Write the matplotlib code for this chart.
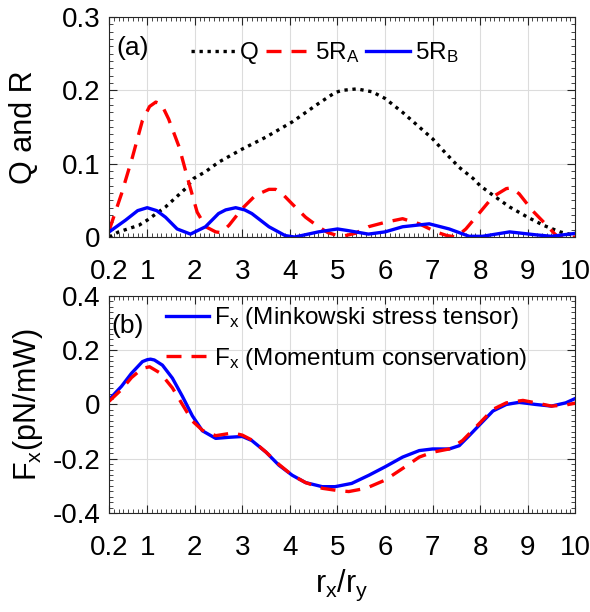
import matplotlib
matplotlib.use('Agg')
import matplotlib.pyplot as plt
from matplotlib.ticker import MultipleLocator

plt.rcParams['font.family'] = ['Liberation Sans', 'DejaVu Sans']
plt.rcParams['mathtext.fontset'] = 'custom'
plt.rcParams['mathtext.rm'] = 'Liberation Sans'
plt.rcParams['mathtext.it'] = 'Liberation Sans'

# ---- panel (a) data ----
q_x = [0.2, 0.4, 0.825, 1.0, 1.385, 1.805, 1.98, 2.225, 2.5, 3.0, 3.49, 4.05, 4.6,
       4.95, 5.1, 5.41, 5.73, 6.0, 6.37, 6.72, 7.0, 7.28, 7.56, 7.85, 8.0, 8.27,
       8.62, 9.0, 9.33, 9.68, 10.0]
q_y = [0.0, 0.007, 0.016, 0.023, 0.041, 0.066, 0.080, 0.089, 0.102, 0.120, 0.136,
       0.157, 0.182, 0.197, 0.200, 0.202, 0.198, 0.189, 0.170, 0.150, 0.134, 0.114,
       0.095, 0.080, 0.070, 0.057, 0.041, 0.027, 0.016, 0.007, 0.002]

ra_x = [0.2, 0.46, 0.69, 0.9, 1.05, 1.18, 1.3, 1.45, 1.67, 1.88, 2.05, 2.23, 2.44,
        2.55, 2.72, 3.0, 3.28, 3.56, 3.7, 3.84, 4.05, 4.33, 4.6, 4.8, 5.0, 5.1,
        5.37, 5.65, 6.0, 6.37, 6.72, 7.07, 7.3, 7.5, 7.7, 8.0, 8.27, 8.55, 8.65,
        8.82, 9.1, 9.4, 9.6, 9.75, 10.0]
ra_y = [0.009, 0.059, 0.109, 0.159, 0.178, 0.184, 0.181, 0.161, 0.123, 0.073, 0.034,
        0.014, 0.007, 0.006, 0.016, 0.039, 0.057, 0.065, 0.065, 0.059, 0.045, 0.027,
        0.014, 0.006, 0.002, 0.001, 0.005, 0.014, 0.020, 0.025, 0.018, 0.007, 0.002,
        0.0, 0.011, 0.034, 0.055, 0.066, 0.067, 0.059, 0.036, 0.016, 0.002, 0.0, 0.0]

rb_x = [0.2, 0.545, 0.8, 1.0, 1.2, 1.385, 1.63, 1.91, 2.225, 2.5, 2.65, 2.86, 3.05,
        3.2, 3.56, 3.9, 4.1, 4.6, 5.0, 5.2, 5.65, 6.0, 6.37, 6.93, 7.35, 7.77,
        8.05, 8.62, 9.17, 9.5, 10.0]
rb_y = [0.007, 0.023, 0.036, 0.040, 0.036, 0.027, 0.011, 0.004, 0.014, 0.032, 0.037,
        0.040, 0.037, 0.032, 0.014, 0.002, 0.000, 0.007, 0.011, 0.009, 0.004, 0.007,
        0.014, 0.018, 0.011, 0.001, 0.001, 0.007, 0.003, 0.001, 0.005]

# ---- panel (b) data ----
fm_x = [0.2, 0.46, 0.67, 0.9, 1.0, 1.07, 1.15, 1.32, 1.53, 1.74, 1.95, 2.16, 2.44,
        2.72, 3.0, 3.2, 3.5, 3.77, 4.05, 4.33, 4.68, 4.95, 5.3, 5.66, 6.0, 6.37,
        6.72, 7.0, 7.35, 7.56, 7.77, 8.0, 8.27, 8.55, 8.82, 9.17, 9.5, 9.8, 10.0]
fm_y = [0.018, 0.067, 0.115, 0.158, 0.165, 0.167, 0.164, 0.145, 0.097, 0.030,
        -0.042, -0.097, -0.125, -0.121, -0.118, -0.133, -0.176, -0.224, -0.261,
        -0.288, -0.303, -0.303, -0.291, -0.261, -0.230, -0.194, -0.170, -0.164,
        -0.164, -0.152, -0.115, -0.073, -0.024, 0.0, 0.008, 0.0, -0.006, 0.006, 0.022]

fc_x = [0.2, 0.46, 0.67, 0.9, 1.05, 1.28, 1.53, 1.74, 1.95, 2.16, 2.44, 2.8, 3.0,
        3.2, 3.5, 3.77, 4.05, 4.33, 4.68, 5.03, 5.24, 5.6, 6.0, 6.37, 6.72, 7.0,
        7.35, 7.63, 8.0, 8.27, 8.55, 8.9, 9.17, 9.5, 9.8, 10.0]
fc_y = [0.012, 0.055, 0.099, 0.133, 0.139, 0.115, 0.061, 0.0, -0.061, -0.095,
        -0.115, -0.105, -0.113, -0.131, -0.176, -0.221, -0.261, -0.288, -0.309,
        -0.318, -0.321, -0.309, -0.279, -0.236, -0.194, -0.176, -0.164, -0.133,
        -0.067, -0.018, 0.006, 0.015, 0.006, -0.006, -0.002, 0.005]

x_ticks = [0.2, 1, 2, 3, 4, 5, 6, 7, 8, 9, 10]
x_ticklabels = ['0.2', '1', '2', '3', '4', '5', '6', '7', '8', '9', '10']
a_yticks = [0, 0.1, 0.2, 0.3]
a_yticklabels = ['0', '0.1', '0.2', '0.3']
b_yticks = [-0.4, -0.2, 0, 0.2, 0.4]
b_yticklabels = ['-0.4', '-0.2', '0', '0.2', '0.4']

fig = plt.figure(figsize=(5.9, 6.12), dpi=100)
ax1 = fig.add_axes([0.185, 0.6127, 0.79, 0.3595])
ax2 = fig.add_axes([0.185, 0.1618, 0.79, 0.3546])


def style(ax, ymin, ymax, yticks, ylabels, yminor):
    ax.set_xlim(0.2, 10)
    ax.set_ylim(ymin, ymax)
    ax.set_xticks(x_ticks)
    ax.set_xticklabels(x_ticklabels)
    ax.set_yticks(yticks)
    ax.set_yticklabels(ylabels)
    ax.xaxis.set_minor_locator(MultipleLocator(0.1))
    ax.yaxis.set_minor_locator(MultipleLocator(yminor))
    ax.tick_params(which='both', direction='in', top=True, right=True,
                   labelsize=20, color='#262626')
    ax.tick_params(which='major', length=6, width=0.8, pad=6)
    ax.tick_params(axis='x', which='major', pad=16)
    ax.tick_params(which='minor', length=3, width=0.6)
    ax.grid(True, which='major', color='#dcdcdc', lw=0.8)
    ax.set_axisbelow(True)
    for s in ax.spines.values():
        s.set_color('#262626')
        s.set_linewidth(0.8)


style(ax1, 0, 0.3, a_yticks, a_yticklabels, 0.01)
ax1.plot(q_x, q_y, color='black', ls=(0, (1, 1.4)), lw=2.4, label='Q')
ax1.plot(ra_x, ra_y, color='red', ls=(0, (4.5, 3)), lw=2.4, label='5R$_A$')
ax1.plot(rb_x, rb_y, color='blue', lw=2.4, label='5R$_B$')
ax1.set_ylabel('Q and R', fontsize=22, labelpad=17)
ax1.text(0.015, 0.86, '(a)', transform=ax1.transAxes, fontsize=19, va='center')
ax1.legend(loc='upper left', bbox_to_anchor=(0.145, 0.96), ncol=3, frameon=False,
           fontsize=17.5, handlelength=1.8, handletextpad=0.2, columnspacing=0.3,
           borderaxespad=0.2)

style(ax2, -0.4, 0.4, b_yticks, b_yticklabels, 0.02)
ax2.plot(fm_x, fm_y, color='blue', lw=2.4,
         label='F$_x$ (Minkowski stress tensor)')
ax2.plot(fc_x, fc_y, color='red', ls=(0, (4.5, 3)), lw=2.4,
         label='F$_x$ (Momentum conservation)')
ax2.set_ylabel('F$_x$(pN/mW)', fontsize=22, labelpad=6)
ax2.set_xlabel('r$_x$/r$_y$', fontsize=22, labelpad=5)
ax2.text(0.005, 0.86, '(b)', transform=ax2.transAxes, fontsize=19, va='center')
ax2.legend(loc='upper left', bbox_to_anchor=(0.09, 1.025), frameon=False,
           fontsize=17.5, handlelength=1.8, handletextpad=0.2, labelspacing=0.6,
           borderaxespad=0.2)

fig.savefig('out.png', dpi=100)
